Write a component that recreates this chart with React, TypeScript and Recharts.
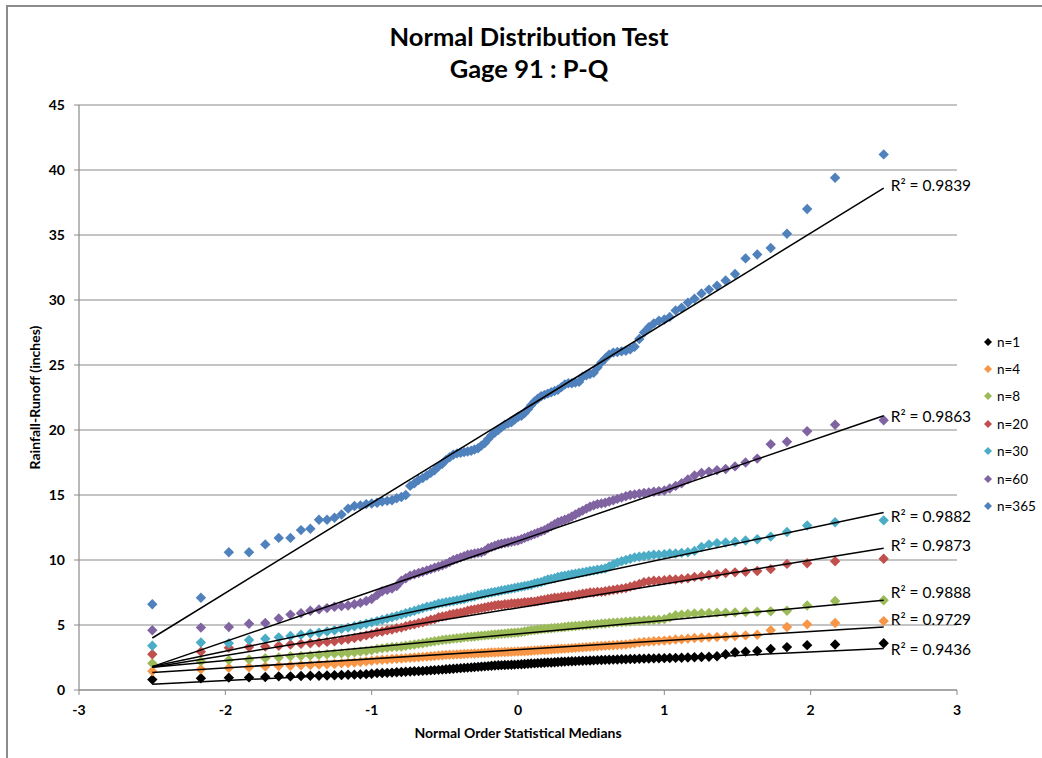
import { CartesianGrid, Scatter, ScatterChart, XAxis, YAxis } from "recharts";

// normal order statistic medians (111 ranks)
const xMedians = [
	-2.499, -2.167, -1.976, -1.838, -1.727, -1.635, -1.555, -1.483, -1.419, -1.36,
	-1.305, -1.254, -1.206, -1.161, -1.118, -1.077, -1.037, -1.0, -0.963, -0.928,
	-0.894, -0.861, -0.829, -0.797, -0.767, -0.737, -0.708, -0.679, -0.651, -0.623,
	-0.596, -0.57, -0.543, -0.517, -0.492, -0.467, -0.442, -0.417, -0.392, -0.368,
	-0.344, -0.32, -0.297, -0.273, -0.25, -0.227, -0.204, -0.181, -0.158, -0.135,
	-0.113, -0.09, -0.068, -0.045, -0.023, 0, 0.023, 0.045, 0.068, 0.09,
	0.113, 0.135, 0.158, 0.181, 0.204, 0.227, 0.25, 0.273, 0.297, 0.32,
	0.344, 0.368, 0.392, 0.417, 0.442, 0.467, 0.492, 0.517, 0.543, 0.57,
	0.596, 0.623, 0.651, 0.679, 0.708, 0.737, 0.767, 0.797, 0.829, 0.861,
	0.894, 0.928, 0.963, 1.0, 1.037, 1.077, 1.118, 1.161, 1.206, 1.254,
	1.305, 1.36, 1.419, 1.483, 1.555, 1.635, 1.727, 1.838, 1.976, 2.167,
	2.499,
];

const n1 = [
	0.8, 0.9, 0.95, 0.97, 1.0, 1.05, 1.05, 1.08, 1.1, 1.1,
	1.12, 1.13, 1.15, 1.17, 1.18, 1.2, 1.22, 1.25, 1.3, 1.31,
	1.32, 1.34, 1.36, 1.38, 1.4, 1.42, 1.44, 1.45, 1.47, 1.49,
	1.51, 1.53, 1.55, 1.57, 1.6, 1.62, 1.64, 1.66, 1.68, 1.7,
	1.72, 1.74, 1.76, 1.78, 1.8, 1.82, 1.84, 1.86, 1.88, 1.9,
	1.91, 1.92, 1.93, 1.94, 1.95, 1.97, 1.98, 2.0, 2.02, 2.04,
	2.05, 2.07, 2.08, 2.1, 2.11, 2.12, 2.14, 2.15, 2.17, 2.18,
	2.2, 2.21, 2.22, 2.24, 2.25, 2.26, 2.27, 2.28, 2.3, 2.31,
	2.32, 2.33, 2.34, 2.35, 2.36, 2.37, 2.38, 2.39, 2.4, 2.41,
	2.42, 2.43, 2.44, 2.45, 2.46, 2.47, 2.48, 2.5, 2.52, 2.54,
	2.56, 2.6, 2.75, 2.9, 2.95, 3.0, 3.15, 3.3, 3.45, 3.5,
	3.6,
];

const n4 = [
	1.45, 1.6, 1.7, 1.75, 1.8, 1.85, 1.87, 1.9, 1.92, 1.95,
	1.98, 2.0, 2.05, 2.08, 2.12, 2.15, 2.2, 2.25, 2.3, 2.33,
	2.35, 2.38, 2.4, 2.42, 2.45, 2.47, 2.5, 2.52, 2.55, 2.57,
	2.6, 2.62, 2.65, 2.67, 2.7, 2.71, 2.72, 2.74, 2.75, 2.77,
	2.78, 2.8, 2.81, 2.82, 2.84, 2.85, 2.86, 2.88, 2.89, 2.9,
	2.91, 2.92, 2.93, 2.94, 2.95, 2.96, 2.97, 2.98, 3.0, 3.02,
	3.04, 3.05, 3.07, 3.08, 3.1, 3.12, 3.13, 3.15, 3.17, 3.18,
	3.2, 3.22, 3.24, 3.26, 3.28, 3.3, 3.32, 3.34, 3.36, 3.38,
	3.4, 3.42, 3.44, 3.46, 3.48, 3.5, 3.55, 3.6, 3.65, 3.7,
	3.72, 3.75, 3.78, 3.8, 3.84, 3.88, 3.9, 3.95, 4.0, 4.02,
	4.05, 4.08, 4.1, 4.15, 4.2, 4.25, 4.6, 4.85, 5.05, 5.15,
	5.3,
];

const n8 = [
	2.05, 2.2, 2.3, 2.35, 2.45, 2.5, 2.6, 2.62, 2.65, 2.7,
	2.75, 2.8, 2.82, 2.85, 2.9, 2.95, 3.0, 3.05, 3.15, 3.2,
	3.25, 3.3, 3.32, 3.35, 3.4, 3.45, 3.5, 3.55, 3.6, 3.65,
	3.7, 3.75, 3.8, 3.85, 3.88, 3.9, 3.95, 3.98, 4.0, 4.05,
	4.08, 4.1, 4.12, 4.15, 4.18, 4.2, 4.22, 4.25, 4.27, 4.3,
	4.32, 4.34, 4.36, 4.38, 4.4, 4.42, 4.45, 4.5, 4.55, 4.6,
	4.62, 4.65, 4.68, 4.7, 4.72, 4.75, 4.78, 4.8, 4.82, 4.85,
	4.88, 4.9, 4.92, 4.95, 4.97, 5.0, 5.02, 5.05, 5.07, 5.1,
	5.12, 5.15, 5.18, 5.2, 5.22, 5.25, 5.27, 5.3, 5.32, 5.35,
	5.36, 5.38, 5.4, 5.45, 5.6, 5.75, 5.8, 5.85, 5.88, 5.9,
	5.92, 5.95, 5.95, 5.97, 6.0, 6.02, 6.05, 6.1, 6.5, 6.85,
	6.9,
];

const n20 = [
	2.75, 2.95, 3.25, 3.3, 3.35, 3.4, 3.5, 3.55, 3.6, 3.65,
	3.7, 3.75, 3.85, 3.9, 4.0, 4.1, 4.2, 4.3, 4.45, 4.5,
	4.6, 4.65, 4.75, 4.8, 4.9, 5.0, 5.05, 5.15, 5.2, 5.3,
	5.4, 5.45, 5.6, 5.65, 5.7, 5.8, 5.85, 5.9, 5.95, 6.0,
	6.1, 6.15, 6.2, 6.25, 6.3, 6.35, 6.4, 6.45, 6.5, 6.55,
	6.55, 6.6, 6.6, 6.65, 6.65, 6.7, 6.7, 6.75, 6.75, 6.8,
	6.8, 6.85, 6.9, 6.95, 7.0, 7.05, 7.1, 7.1, 7.15, 7.2,
	7.2, 7.25, 7.3, 7.35, 7.4, 7.45, 7.5, 7.5, 7.55, 7.55,
	7.6, 7.65, 7.7, 7.75, 7.8, 7.85, 7.95, 8.05, 8.15, 8.3,
	8.35, 8.4, 8.4, 8.45, 8.5, 8.5, 8.55, 8.6, 8.7, 8.75,
	8.85, 8.9, 9.0, 9.05, 9.1, 9.15, 9.3, 9.7, 9.75, 9.9,
	10.1,
];

const n30 = [
	3.4, 3.65, 3.6, 3.85, 3.95, 4.05, 4.15, 4.25, 4.35, 4.4,
	4.5, 4.6, 4.7, 4.8, 4.9, 5.0, 5.1, 5.2, 5.3, 5.4,
	5.5, 5.6, 5.7, 5.8, 5.9, 6.0, 6.1, 6.2, 6.3, 6.4,
	6.45, 6.55, 6.65, 6.7, 6.75, 6.8, 6.85, 6.9, 6.95, 7.0,
	7.1, 7.15, 7.2, 7.3, 7.35, 7.4, 7.45, 7.5, 7.55, 7.6,
	7.65, 7.7, 7.75, 7.8, 7.85, 7.9, 7.95, 8.0, 8.05, 8.1,
	8.2, 8.25, 8.3, 8.4, 8.5, 8.55, 8.6, 8.7, 8.75, 8.8,
	8.85, 8.9, 8.95, 9.0, 9.05, 9.1, 9.15, 9.2, 9.25, 9.3,
	9.35, 9.5, 9.65, 9.8, 9.9, 10.0, 10.1, 10.2, 10.25, 10.3,
	10.35, 10.4, 10.4, 10.45, 10.5, 10.5, 10.55, 10.6, 10.7, 11.0,
	11.2, 11.3, 11.35, 11.4, 11.5, 11.6, 11.8, 12.15, 12.65, 12.9,
	13.05,
];

const n60 = [
	4.6, 4.8, 4.85, 5.1, 5.15, 5.5, 5.8, 5.9, 6.1, 6.2,
	6.3, 6.4, 6.45, 6.5, 6.6, 6.7, 6.85, 7.0, 7.3, 7.6,
	7.7, 7.8, 8.0, 8.4, 8.6, 8.8, 8.9, 9.0, 9.1, 9.2,
	9.3, 9.4, 9.5, 9.6, 9.7, 9.85, 10.0, 10.1, 10.2, 10.3,
	10.4, 10.45, 10.5, 10.55, 10.6, 10.7, 10.9, 11.0, 11.1, 11.2,
	11.25, 11.3, 11.35, 11.4, 11.45, 11.5, 11.6, 11.7, 11.8, 11.9,
	12.0, 12.1, 12.2, 12.3, 12.45, 12.6, 12.75, 12.9, 13.0, 13.1,
	13.2, 13.35, 13.5, 13.65, 13.8, 13.95, 14.1, 14.2, 14.3, 14.35,
	14.4, 14.5, 14.6, 14.7, 14.8, 14.9, 15.0, 15.05, 15.1, 15.15,
	15.2, 15.25, 15.3, 15.35, 15.5, 15.7, 15.9, 16.2, 16.5, 16.7,
	16.8, 16.9, 17.0, 17.2, 17.5, 17.8, 18.9, 19.1, 19.9, 20.4,
	20.75,
];

const n365 = [
	6.6, 7.1, 10.6, 10.6, 11.2, 11.7, 11.7, 12.3, 12.4, 13.1,
	13.1, 13.25, 13.5, 13.95, 14.15, 14.2, 14.3, 14.35, 14.4, 14.5,
	14.55, 14.6, 14.75, 14.85, 15.0, 15.7, 15.9, 16.15, 16.3, 16.5,
	16.7, 16.9, 17.2, 17.4, 17.7, 17.9, 18.1, 18.2, 18.25, 18.3,
	18.35, 18.4, 18.5, 18.6, 18.8, 19.0, 19.3, 19.6, 19.8, 20.0,
	20.2, 20.4, 20.5, 20.6, 20.8, 21.0, 21.1, 21.3, 21.6, 21.9,
	22.2, 22.4, 22.6, 22.7, 22.8, 22.9, 23.0, 23.1, 23.3, 23.5,
	23.6, 23.6, 23.65, 23.7, 24.1, 24.2, 24.3, 24.4, 24.8, 25.2,
	25.5, 25.8, 25.95, 26.0, 26.05, 26.1, 26.2, 26.4, 27.0, 27.5,
	27.9, 28.2, 28.4, 28.5, 28.7, 29.2, 29.4, 29.8, 30.1, 30.5,
	30.8, 31.1, 31.5, 32.0, 33.2, 33.5, 34.0, 35.1, 37.0, 39.4,
	41.2,
];

const seriesNames = ["n=1", "n=4", "n=8", "n=20", "n=30", "n=60", "n=365"];
const seriesValues = [n1, n4, n8, n20, n30, n60, n365];

// linear trendline ends (at first and last median) and R² labels
const trendStart = [0.45, 1.35, 1.75, 1.75, 1.8, 1.8, 4.0];
const trendEnd = [3.2, 4.85, 6.9, 10.9, 13.65, 21.1, 38.6];
const rSquared = ["0.9436", "0.9729", "0.9888", "0.9873", "0.9882", "0.9863", "0.9839"];

const xTicks = [-3, -2, -1, 0, 1, 2, 3];
const yTicks = [0, 5, 10, 15, 20, 25, 30, 35, 40, 45];

const colors = ["#000000", "#F79646", "#9BBB59", "#C0504D", "#4BACC6", "#8064A2", "#4F81BD"];
const labelDy = [1, -8, -8, -3, 3, 0, -3];
const FONT = "Lato, Carlito, Calibri, sans-serif";
const GRID = "#8a8a8a";

const diamond = (color: string, r: number) => (props: any) => {
	const { cx, cy } = props;
	if (cx == null || cy == null) return <g />;
	return (
		<polygon
			points={`${cx},${cy - r} ${cx + r},${cy} ${cx},${cy + r} ${cx - r},${cy}`}
			fill={color}
		/>
	);
};

const trendLabel = (i: number) => (props: any) => {
	const { cx, cy, payload } = props;
	if (cx == null || !payload || payload.x < 0) return <g />;
	return (
		<text
			x={cx + 7}
			y={cy + labelDy[i]}
			dominantBaseline="central"
			style={{ fontSize: 15.5, fontFamily: FONT, fill: "#000" }}
		>
			R² = {rSquared[i]}
		</text>
	);
};

export default function App() {
	const pointData = seriesValues.map((vals) =>
		vals.map((y, k) => ({ x: xMedians[k], y })),
	);
	const trendData = trendStart.map((s, i) => [
		{ x: xMedians[0], y: s },
		{ x: xMedians[xMedians.length - 1], y: trendEnd[i] },
	]);

	const tickStyle = { fill: "#000", fontSize: 14, fontWeight: 700, fontFamily: FONT };
	const axisLabelStyle = { fill: "#000", fontSize: 14, fontWeight: 700, fontFamily: FONT };

	return (
		<div
			style={{
				position: "absolute",
				left: 0,
				top: 0,
				width: 1042,
				height: 758,
				background: "#fff",
				fontFamily: FONT,
				overflow: "hidden",
			}}
		>
			<div
				style={{
					position: "absolute",
					left: 6,
					top: 5,
					width: 1100,
					height: 800,
					borderTop: "2px solid #8c8c8c",
					borderLeft: "2px solid #8c8c8c",
				}}
			/>
			<div
				style={{
					position: "absolute",
					left: 0,
					width: 1058,
					top: 20,
					textAlign: "center",
					fontWeight: 700,
					fontSize: 25.5,
					lineHeight: "32px",
					color: "#000",
				}}
			>
				Normal Distribution Test
				<br />
				Gage 91 : P-Q
			</div>

			<ScatterChart
				width={1042}
				height={758}
				margin={{ top: 105, right: 85, bottom: 18, left: 7 }}
			>
				<CartesianGrid vertical={false} stroke={GRID} strokeWidth={1.2} />
				<XAxis
					type="number"
					dataKey="x"
					domain={[-3, 3]}
					ticks={xTicks}
					height={50}
					tickSize={5}
					tickMargin={10}
					axisLine={{ stroke: GRID, strokeWidth: 1.2 }}
					tickLine={{ stroke: GRID }}
					tick={tickStyle}
					label={{
						value: "Normal Order Statistical Medians",
						position: "insideBottom",
						offset: 2,
						style: axisLabelStyle,
					}}
				/>
				<YAxis
					type="number"
					dataKey="y"
					domain={[0, 45]}
					ticks={yTicks}
					width={72}
					tickSize={5}
					tickMargin={9}
					axisLine={{ stroke: GRID, strokeWidth: 1.2 }}
					tickLine={{ stroke: GRID }}
					tick={tickStyle}
					label={{
						value: "Rainfall-Runoff (inches)",
						angle: -90,
						position: "insideLeft",
						offset: 28,
						style: { ...axisLabelStyle, textAnchor: "middle" },
					}}
				/>
				{pointData.map((d, i) => (
					<Scatter
						key={seriesNames[i]}
						name={seriesNames[i]}
						data={d}
						fill={colors[i]}
						shape={diamond(colors[i], 5.2)}
						isAnimationActive={false}
					/>
				))}
				{trendData.map((d, i) => (
					<Scatter
						key={"trend" + i}
						data={d}
						line={{ stroke: "#000", strokeWidth: 1.5 }}
						shape={trendLabel(i)}
						isAnimationActive={false}
					/>
				))}
			</ScatterChart>

			<div style={{ position: "absolute", left: 981, top: 328 }}>
				{seriesNames.map((name, i) => (
					<div
						key={name}
						style={{
							display: "flex",
							alignItems: "center",
							height: 27.4,
							fontSize: 13.5,
							color: "#000",
						}}
					>
						<svg width={14} height={14} style={{ marginRight: 2 }}>
							<polygon points="7,3 11,7 7,11 3,7" fill={colors[i]} />
						</svg>
						{name}
					</div>
				))}
			</div>
		</div>
	);
}
